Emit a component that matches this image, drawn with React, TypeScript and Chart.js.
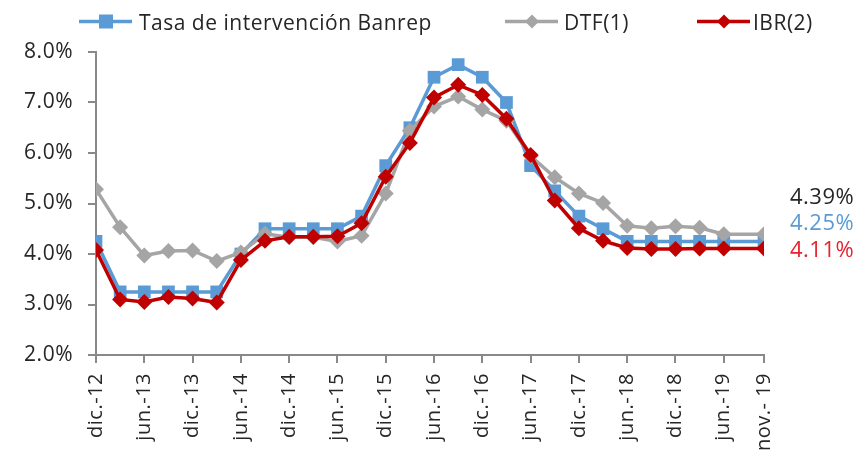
import React, { useEffect, useRef } from 'react';
import { Chart, registerables } from 'chart.js';

Chart.register(...registerables);

// ---- data ----
const periods = [
  '2012-12', '2013-03', '2013-06', '2013-09', '2013-12', '2014-03', '2014-06', '2014-09',
  '2014-12', '2015-03', '2015-06', '2015-09', '2015-12', '2016-03', '2016-06', '2016-09',
  '2016-12', '2017-03', '2017-06', '2017-09', '2017-12', '2018-03', '2018-06', '2018-09',
  '2018-12', '2019-03', '2019-06', '2019-11',
];
const banrep = [
  4.25, 3.25, 3.25, 3.25, 3.25, 3.25, 4.0, 4.5,
  4.5, 4.5, 4.5, 4.75, 5.75, 6.5, 7.5, 7.75,
  7.5, 7.0, 5.75, 5.25, 4.75, 4.5, 4.25, 4.25,
  4.25, 4.25, 4.25, 4.25,
];
const dtf = [
  5.28, 4.53, 3.97, 4.06, 4.07, 3.86, 4.03, 4.40,
  4.33, 4.33, 4.25, 4.36, 5.20, 6.44, 6.92, 7.12,
  6.86, 6.64, 5.94, 5.52, 5.20, 5.01, 4.56, 4.51,
  4.55, 4.52, 4.39, 4.39,
];
const ibr = [
  4.08, 3.10, 3.05, 3.15, 3.12, 3.04, 3.88, 4.26,
  4.34, 4.34, 4.35, 4.61, 5.53, 6.20, 7.10, 7.35,
  7.15, 6.68, 5.96, 5.06, 4.51, 4.26, 4.12, 4.10,
  4.10, 4.11, 4.11, 4.11,
];
const tickPeriods = [
  '2012-12', '2013-06', '2013-12', '2014-06', '2014-12', '2015-06', '2015-12', '2016-06',
  '2016-12', '2017-06', '2017-12', '2018-06', '2018-12', '2019-06', '2019-11',
];
const tickLabels = [
  'dic.-12', 'jun.-13', 'dic.-13', 'jun.-14', 'dic.-14', 'jun.-15', 'dic.-15', 'jun.-16',
  'dic.-16', 'jun.-17', 'dic.-17', 'jun.-18', 'dic.-18', 'jun.-19', 'nov.- 19',
];
const seriesNames = ['Tasa de intervención Banrep', 'DTF(1)', 'IBR(2)'];
const lastLabels = ['4.39%', '4.25%', '4.11%'];

// ---- styles ----
const BLUE = '#5B9BD5';
const GRAY = '#A5A5A5';
const RED = '#C00000';
const AXIS = '#898989';
const TEXT = '#262626';
const FONT = '"Open Sans", sans-serif';
const SPACING = '0.5px';

const monthIndex = (p: string) => {
  const [y, m] = p.split('-').map(Number);
  return (y - 2012) * 12 + (m - 12);
};
const toPoints = (vals: number[]) => vals.map((v, i) => ({ x: monthIndex(periods[i]), y: v }));
const tickValues = tickPeriods.map(monthIndex);

const decorPlugin = {
  id: 'decor',
  beforeLayout(chart: any) {
    chart.ctx.letterSpacing = SPACING;
  },
  beforeDraw(chart: any) {
    chart.ctx.letterSpacing = SPACING;
  },
  afterDraw(chart: any) {
    const ctx = chart.ctx as CanvasRenderingContext2D;
    const { right, top } = chart.chartArea;
    ctx.save();
    (ctx as any).letterSpacing = SPACING;
    ctx.font = `21px ${FONT}`;
    ctx.textBaseline = 'alphabetic';
    ctx.textAlign = 'left';

    // legend
    const legend = [
      { x: 79, color: BLUE, shape: 'square', text: seriesNames[0], tx: 139 },
      { x: 505, color: GRAY, shape: 'diamond', text: seriesNames[1], tx: 564 },
      { x: 697, color: RED, shape: 'diamond', text: seriesNames[2], tx: 753 },
    ];
    const ly = 21.5;
    legend.forEach((it) => {
      ctx.strokeStyle = it.color;
      ctx.lineWidth = 3.5;
      ctx.beginPath();
      ctx.moveTo(it.x, ly);
      ctx.lineTo(it.x + 53, ly);
      ctx.stroke();
      const cx = it.x + 27;
      ctx.fillStyle = it.color;
      ctx.beginPath();
      if (it.shape === 'square') {
        ctx.rect(cx - 7, ly - 7, 14, 14);
      } else {
        ctx.moveTo(cx, ly - 7);
        ctx.lineTo(cx + 7, ly);
        ctx.lineTo(cx, ly + 7);
        ctx.lineTo(cx - 7, ly);
        ctx.closePath();
      }
      ctx.fill();
      ctx.fillStyle = TEXT;
      ctx.fillText(it.text, it.tx, 29.5);
    });

    // end labels
    ctx.font = `22px ${FONT}`;
    const endColors = [TEXT, BLUE, '#E8212E'];
    const baselines = [204, 230, 256.5];
    lastLabels.forEach((t, i) => {
      ctx.fillStyle = endColors[i];
      ctx.fillText(t, right + 26, baselines[i] - 52 + top);
    });
    ctx.restore();
  },
};

export default function App() {
  const ref = useRef<HTMLCanvasElement>(null);
  useEffect(() => {
    if (!ref.current) return;
    const chart = new Chart(ref.current, {
      type: 'line',
      data: {
        datasets: [
          {
            label: seriesNames[0],
            data: toPoints(banrep),
            borderColor: BLUE,
            backgroundColor: BLUE,
            borderWidth: 3.5,
            pointStyle: 'rect',
            pointRadius: 9,
            pointBorderWidth: 0,
            tension: 0,
            order: 2,
          },
          {
            label: seriesNames[1],
            data: toPoints(dtf),
            borderColor: GRAY,
            backgroundColor: GRAY,
            borderWidth: 3.5,
            pointStyle: 'rectRot',
            pointRadius: 8,
            pointBorderWidth: 0,
            tension: 0,
            order: 1,
          },
          {
            label: seriesNames[2],
            data: toPoints(ibr),
            borderColor: RED,
            backgroundColor: RED,
            borderWidth: 3.5,
            pointStyle: 'rectRot',
            pointRadius: 8,
            pointBorderWidth: 0,
            tension: 0,
            order: 0,
          },
        ],
      },
      options: {
        animation: false,
        responsive: false,
        maintainAspectRatio: false,
        layout: { padding: { top: 52, right: 96, left: 0, bottom: 0 } },
        plugins: { legend: { display: false }, tooltip: { enabled: false } },
        scales: {
          x: {
            type: 'linear',
            min: tickValues[0],
            max: tickValues[tickValues.length - 1],
            afterBuildTicks: (scale: any) => {
              scale.ticks = tickValues.map((v) => ({ value: v }));
            },
            afterFit: (scale: any) => {
              scale.height = 98;
            },
            grid: {
              drawOnChartArea: false,
              drawTicks: true,
              tickLength: 8,
              tickColor: AXIS,
              lineWidth: 2,
            },
            border: { display: true, color: AXIS, width: 2 },
            ticks: {
              autoSkip: false,
              maxRotation: 90,
              minRotation: 90,
              padding: 10,
              color: TEXT,
              font: { family: FONT, size: 20 },
              callback: (v: any) => {
                const i = tickValues.indexOf(Number(v));
                return i >= 0 ? tickLabels[i] : '';
              },
            },
          },
          y: {
            min: 2,
            max: 8,
            afterFit: (scale: any) => {
              scale.width = 96;
            },
            grid: {
              drawOnChartArea: false,
              drawTicks: true,
              tickLength: 8,
              tickColor: AXIS,
              lineWidth: 2,
            },
            border: { display: true, color: AXIS, width: 2 },
            ticks: {
              stepSize: 1,
              padding: 15,
              color: TEXT,
              font: { family: FONT, size: 21 },
              callback: (v: any) => Number(v).toFixed(1) + '%',
            },
          },
        },
      },
      plugins: [decorPlugin],
    } as any);
    return () => chart.destroy();
  }, []);
  return (
    <div style={{ position: 'fixed', left: 0, top: 0, width: 860, height: 453, background: '#fff' }}>
      <canvas ref={ref} width={860} height={453} style={{ width: 860, height: 453 }} />
    </div>
  );
}
